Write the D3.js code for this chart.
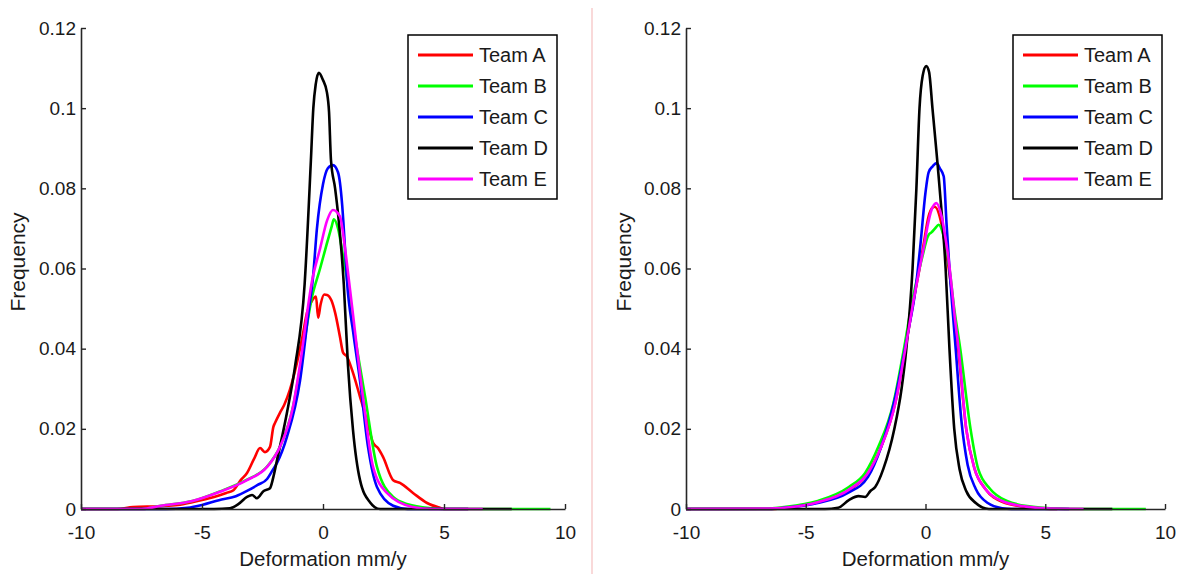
<!DOCTYPE html>
<html>
<head>
<meta charset="utf-8">
<script src="https://cdn.jsdelivr.net/npm/d3@7"></script>
<style>
  body { margin: 0; background: #fff; }
  text { font-family: "Liberation Sans", Arial, Helvetica, sans-serif; fill: #1a1a1a; }
</style>
</head>
<body>
<script>
// chart data
var teams = ["Team A", "Team B", "Team C", "Team D", "Team E"];
var teamColors = ["#ff0000", "#00ff00", "#0000ff", "#000000", "#ff00ff"];
var xTicks = [-10, -5, 0, 5, 10];
var xTickLabels = ["-10", "-5", "0", "5", "10"];
var yTicks = [0, 0.02, 0.04, 0.06, 0.08, 0.1, 0.12];
var yTickLabels = ["0", "0.02", "0.04", "0.06", "0.08", "0.1", "0.12"];

// left panel
var leftTeamA = [[-10, 0], [-8.5, 0], [-7.85, 0.0005], [-6.7, 0.0007], [-6, 0.001], [-5.4, 0.0017], [-4.5, 0.003],
  [-4, 0.004], [-3.7, 0.0047], [-3.4, 0.0072], [-3.14, 0.009], [-2.85, 0.0125], [-2.6, 0.0152], [-2.4, 0.0142],
  [-2.19, 0.0155], [-2.05, 0.0205], [-1.98, 0.0215], [-1.78, 0.024], [-1.6, 0.026], [-1.37, 0.0297], [-1.08, 0.0364],
  [-0.85, 0.043], [-0.66, 0.049], [-0.45, 0.052], [-0.29, 0.053], [-0.2, 0.0477], [-0.1, 0.051], [0.05, 0.0535],
  [0.17, 0.0534], [0.35, 0.052], [0.5, 0.049], [0.7, 0.043], [0.83, 0.039], [0.99, 0.038], [1.2, 0.0347],
  [1.53, 0.028], [1.82, 0.022], [2.07, 0.0165], [2.27, 0.0152], [2.48, 0.013], [2.9, 0.0072], [3.18, 0.0065],
  [3.72, 0.004], [4.3, 0.0015], [4.83, 0.0003], [5, 0], [6, 0]];
var leftTeamB = [[-10, 0], [-7.5, 0], [-6.7, 0.0008], [-5.4, 0.002], [-4.26, 0.0044], [-3.14, 0.0073], [-2.31, 0.0106],
  [-1.78, 0.0155], [-1.24, 0.0255], [-0.95, 0.035], [-0.45, 0.053], [-0.12, 0.060], [0.15, 0.066], [0.29, 0.069],
  [0.36, 0.0705], [0.45, 0.0723], [0.62, 0.070], [0.83, 0.063], [1.0, 0.057], [1.2, 0.048], [1.74, 0.028],
  [2.23, 0.0105], [2.9, 0.003], [3.5, 0.0012], [4.5, 0.0002], [5, 0], [9.4, 0]];
var leftTeamC = [[-10, 0], [-6.5, 0], [-5.6, 0.0003], [-5, 0.001], [-4.3, 0.0022], [-3.6, 0.0032], [-3.14, 0.0045],
  [-2.7, 0.006], [-2.31, 0.0075], [-2.1, 0.0095], [-1.9, 0.0115], [-1.49, 0.018], [-0.95, 0.032], [-0.6, 0.049],
  [-0.41, 0.058], [-0.25, 0.070], [0, 0.081], [0.2, 0.085], [0.41, 0.0858], [0.62, 0.084], [0.79, 0.076],
  [0.91, 0.065], [0.99, 0.057], [1.25, 0.044], [1.53, 0.032], [1.86, 0.0155], [2.23, 0.0055], [2.9, 0.0008],
  [3.5, 0], [6, 0]];
var leftTeamD = [[-10, 0], [-4.5, 0], [-3.84, 0.0002], [-3.5, 0.0012], [-3.14, 0.003], [-2.93, 0.0035], [-2.73, 0.0027],
  [-2.45, 0.0045], [-2.19, 0.0052], [-2.05, 0.008], [-1.9, 0.0122], [-1.49, 0.024], [-1.16, 0.0354], [-0.76, 0.056],
  [-0.5, 0.087], [-0.4, 0.100], [-0.3, 0.106], [-0.17, 0.1088], [0, 0.107], [0.16, 0.104], [0.25, 0.099],
  [0.33, 0.087], [0.5, 0.080], [0.65, 0.072], [0.86, 0.056], [1.03, 0.036], [1.24, 0.0197], [1.53, 0.0072],
  [1.94, 0.0017], [2.36, 0], [7.8, 0]];
var leftTeamE = [[-10, 0], [-7.5, 0], [-6.7, 0.0008], [-5.4, 0.002], [-4.26, 0.0043], [-3.14, 0.0072], [-2.31, 0.0105],
  [-1.78, 0.0155], [-1.24, 0.0255], [-0.95, 0.036], [-0.45, 0.057], [-0.12, 0.065], [0.17, 0.072], [0.41, 0.0746],
  [0.7, 0.073], [0.91, 0.065], [1.12, 0.0546], [1.65, 0.028], [2.07, 0.0105], [2.64, 0.004], [3.7, 0.0005],
  [4.5, 0], [6.6, 0]];

// right panel
var rightTeamA = [[-10, 0], [-6.5, 0], [-5.9, 0.0003], [-4.5, 0.0017], [-3.1, 0.005], [-2.4, 0.009], [-1.85, 0.0155],
  [-1.26, 0.0265], [-0.84, 0.040], [-0.5, 0.052], [-0.25, 0.060], [-0.08, 0.066], [0.13, 0.073], [0.3, 0.0752],
  [0.38, 0.0754], [0.67, 0.071], [0.84, 0.065], [0.97, 0.060], [1.1, 0.054], [1.22, 0.047], [1.38, 0.039],
  [1.7, 0.020], [2.05, 0.010], [2.5, 0.005], [3.2, 0.0018], [4.2, 0.0005], [5.2, 0], [5.5, 0]];
var rightTeamB = [[-10, 0], [-6.8, 0.0001], [-5.9, 0.0005], [-4.5, 0.002], [-3.2, 0.0055], [-2.52, 0.009],
  [-1.97, 0.0155], [-1.34, 0.0264], [-0.9, 0.040], [-0.55, 0.052], [-0.17, 0.062], [0.13, 0.0684], [0.25, 0.069],
  [0.4, 0.070], [0.55, 0.0709], [0.76, 0.068], [1.0, 0.060], [1.2, 0.050], [1.45, 0.040], [1.88, 0.020],
  [2.2, 0.010], [2.7, 0.005], [3.4, 0.002], [4.4, 0.0006], [5.5, 0.0001], [6, 0], [9.2, 0]];
var rightTeamC = [[-10, 0], [-6.5, 0], [-5.9, 0.0003], [-4.5, 0.0015], [-3.24, 0.004], [-2.4, 0.008], [-1.85, 0.0155],
  [-1.26, 0.028], [-0.71, 0.0447], [-0.42, 0.0546], [-0.21, 0.066], [0, 0.079], [0.13, 0.084], [0.3, 0.0855],
  [0.46, 0.0863], [0.6, 0.085], [0.76, 0.083], [0.88, 0.071], [1.0, 0.060], [1.1, 0.052], [1.26, 0.040],
  [1.5, 0.022], [1.76, 0.011], [2.1, 0.005], [2.6, 0.0015], [3.2, 0.0002], [3.6, 0], [6, 0]];
var rightTeamD = [[-10, 0], [-4.2, 0], [-3.65, 0.0003], [-3.2, 0.0022], [-2.8, 0.0032], [-2.52, 0.003], [-2.3, 0.0045],
  [-2.1, 0.0055], [-1.76, 0.010], [-1.3, 0.020], [-1.0, 0.030], [-0.8, 0.040], [-0.54, 0.060], [-0.38, 0.080],
  [-0.25, 0.100], [-0.12, 0.108], [0.03, 0.1105], [0.15, 0.109], [0.29, 0.100], [0.59, 0.080], [0.84, 0.060],
  [1.0, 0.040], [1.2, 0.020], [1.42, 0.010], [1.7, 0.0045], [2.1, 0.0015], [2.65, 0], [7.8, 0]];
var rightTeamE = [[-10, 0], [-6.5, 0.0001], [-5.9, 0.0003], [-4.5, 0.0017], [-3.1, 0.0052], [-2.4, 0.009],
  [-1.85, 0.0155], [-1.26, 0.0264], [-0.84, 0.040], [-0.5, 0.052], [-0.25, 0.060], [-0.08, 0.065], [0.1, 0.071],
  [0.25, 0.0746], [0.46, 0.0763], [0.67, 0.073], [0.85, 0.067], [0.97, 0.062], [1.1, 0.055], [1.22, 0.048],
  [1.38, 0.040], [1.7, 0.020], [2.05, 0.010], [2.5, 0.005], [3.2, 0.002], [4.2, 0.0006], [5.2, 0.0001], [6.6, 0]];

var leftSeries = [leftTeamA, leftTeamB, leftTeamC, leftTeamD, leftTeamE];
var rightSeries = [rightTeamA, rightTeamB, rightTeamC, rightTeamD, rightTeamE];

var svgWidth = 1195;
var svgHeight = 574;

var svg = d3.select("body").append("svg")
    .attr("width", svgWidth)
    .attr("height", svgHeight);

// thin divider between the two figures
svg.append("line")
    .attr("x1", 592).attr("x2", 592)
    .attr("y1", 8).attr("y2", svgHeight)
    .attr("stroke", "#f3b3b3")
    .attr("stroke-width", 1);

function drawPanel(series, box) {
    var x = d3.scaleLinear().domain([-10, 10]).range([box.left, box.right]);
    var y = d3.scaleLinear().domain([0, 0.12]).range([box.bottom, box.top]);

    var line = d3.line()
        .x(d => x(d[0]))
        .y(d => y(d[1]))
        .curve(d3.curveMonotoneX);

    var g = svg.append("g");

    // curves, drawn in team order so E ends on top
    series.forEach(function (data, i) {
        g.append("path")
            .datum(data)
            .attr("fill", "none")
            .attr("stroke", teamColors[i])
            .attr("stroke-width", 2.6)
            .attr("stroke-linejoin", "round")
            .attr("d", line);
    });

    // axes (box off, ticks inward)
    var leftAxis = d3.axisLeft(y)
        .tickValues(yTicks)
        .tickFormat((d, i) => yTickLabels[i])
        .tickSizeInner(-5)
        .tickSizeOuter(0)
        .tickPadding(5);
    var bottomAxis = d3.axisBottom(x)
        .tickValues(xTicks)
        .tickFormat((d, i) => xTickLabels[i])
        .tickSizeInner(-5)
        .tickSizeOuter(0)
        .tickPadding(20);

    var ya = g.append("g")
        .attr("transform", `translate(${box.left},0)`)
        .call(leftAxis);
    var xa = g.append("g")
        .attr("transform", `translate(0,${box.bottom})`)
        .call(bottomAxis);

    [ya, xa].forEach(function (a) {
        a.select(".domain").attr("stroke", "#262626").attr("stroke-width", 1.6);
        a.selectAll(".tick line").attr("stroke", "#262626").attr("stroke-width", 1.4);
        a.selectAll(".tick text")
            .attr("fill", "#1a1a1a")
            .style("font-size", "19px")
            .style("font-family", "'Liberation Sans', Arial, sans-serif");
    });
    xa.selectAll(".tick text").attr("dy", "0.55em");

    // axis titles
    g.append("text")
        .attr("x", (box.left + box.right) / 2)
        .attr("y", 566)
        .attr("text-anchor", "middle")
        .style("font-size", "20.5px")
        .text("Deformation mm/y");

    g.append("text")
        .attr("transform", `translate(${box.yLabelX},262) rotate(-90)`)
        .attr("text-anchor", "middle")
        .attr("dy", "0.35em")
        .style("font-size", "21px")
        .text("Frequency");

    // legend
    var lg = g.append("g").attr("transform", `translate(${box.legendX},35)`);
    lg.append("rect")
        .attr("width", 149).attr("height", 164)
        .attr("fill", "#fff")
        .attr("stroke", "#000")
        .attr("stroke-width", 1.5);
    teams.forEach(function (t, i) {
        var yy = 20 + i * 31;
        lg.append("line")
            .attr("x1", 10).attr("x2", 65)
            .attr("y1", yy).attr("y2", yy)
            .attr("stroke", teamColors[i])
            .attr("stroke-width", 2.8);
        lg.append("text")
            .attr("x", 71).attr("y", yy)
            .attr("dy", "0.36em")
            .style("font-size", "20px")
            .text(t);
    });
}

drawPanel(leftSeries, { left: 81, right: 565, top: 28, bottom: 509, yLabelX: 18, legendX: 408 });
drawPanel(rightSeries, { left: 686, right: 1165, top: 28, bottom: 509, yLabelX: 624, legendX: 1013 });
</script>
</body>
</html>
